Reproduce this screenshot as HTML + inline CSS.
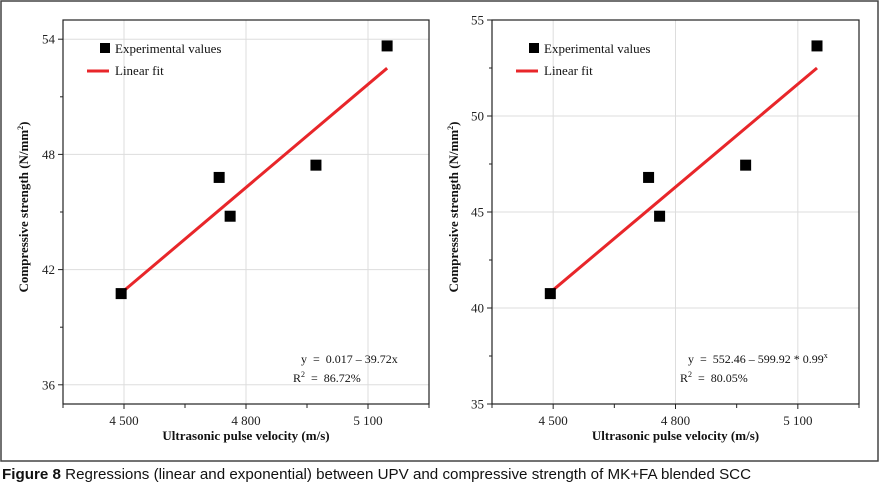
<!DOCTYPE html>
<html><head><meta charset="utf-8"><style>
html,body{margin:0;padding:0;background:#fff;width:880px;height:501px;overflow:hidden}
svg{position:absolute;left:0;top:0}
svg text{white-space:pre}
.cap{position:absolute;left:2px;top:466px;font-family:"Liberation Sans",sans-serif;font-size:15px;white-space:nowrap;transform:scaleX(1.01);transform-origin:0 0;color:#111}
</style></head><body>
<svg id="c" width="880" height="501"></svg>
<div class="cap"><b>Figure 8</b> Regressions (linear and exponential) between UPV and compressive strength of MK+FA blended SCC</div>
<script>
const xVals=[4493,4734,4761,4972,5147];
const yVals=[40.75,46.8,44.78,47.44,53.65];
const fitLeft=[[4493,40.78],[5147,52.49]];
const fitRight=[[4500,40.94],[5147,52.5]];
const xTicks=[4500,4800,5100];
const xTickLabels=["4 500","4 800","5 100"];
const xMinor=[4350,4650,4950,5250];
const yTicksLeft=[54,48,42,36];
const yMinorLeft=[51,45,39];
const yTicksRight=[55,50,45,40,35];
const yMinorRight=[52.5,47.5,42.5,37.5];
const svg=document.getElementById('c');
const NS='http://www.w3.org/2000/svg';
function mk(t,a,p){const e=document.createElementNS(NS,t);for(const k in a)e.setAttribute(k,a[k]);(p||svg).appendChild(e);return e;}
const fr=mk('rect',{x:1,y:1,width:877,height:460,fill:'none',stroke:'#444','stroke-width':1.5});


function chart(L,R,yMajor,yMinor,fit,eq1,eq2,eqX,yTitleX,prefix){
  const T=20,B=404,x0=4350,x1=5250,y0=35,y1=55;
  const sx=v=>L+(v-x0)/(x1-x0)*(R-L);
  const sy=v=>B-(v-y0)/(y1-y0)*(B-T);
  const g=mk('g',{});
  
  
  xTicks.forEach((v,i)=>{
    const gl=mk('line',{x1:sx(v),x2:sx(v),y1:T,y2:B,stroke:'#ddd','stroke-width':1},g);
    
    
    mk('line',{x1:sx(v),x2:sx(v),y1:B,y2:B+5,stroke:'#222'},g);
    const t=mk('text',{x:sx(v),y:B+21,'text-anchor':'middle','font-size':13,'font-family':'Liberation Serif, serif',fill:'#222'},g);
    t.textContent=xTickLabels[i];
    
    
  });
  xMinor.forEach(v=>mk('line',{x1:sx(v),x2:sx(v),y1:B,y2:B+4,stroke:'#222'},g));
  yMajor.forEach(v=>{
    const gl=mk('line',{x1:L,x2:R,y1:sy(v),y2:sy(v),stroke:'#ddd','stroke-width':1},g);
    
    
    mk('line',{x1:L-5,x2:L,y1:sy(v),y2:sy(v),stroke:'#222'},g);
    const t=mk('text',{x:L-8,y:sy(v)+4.5,'text-anchor':'end','font-size':13,'font-family':'Liberation Serif, serif',fill:'#222'},g);
    t.textContent=v;
    
    
  });
  yMinor.forEach(v=>mk('line',{x1:L-3,x2:L,y1:sy(v),y2:sy(v),stroke:'#222'},g));
  const box=mk('rect',{x:L,y:T,width:R-L,height:B-T,fill:'none',stroke:'#222','stroke-width':1.2},g);
  
  
  const ln=mk('line',{x1:sx(fit[0][0]),y1:sy(fit[0][1]),x2:sx(fit[1][0]),y2:sy(fit[1][1]),stroke:'#e8262a','stroke-width':3},g);
  
  
  xVals.forEach((v,i)=>{
    const r=mk('rect',{x:sx(v)-5.5,y:sy(yVals[i])-5.5,width:11,height:11,fill:'#000'},g);
    
    
  });
  const lg=mk('g',{},g);
  
  
  mk('rect',{x:L+37,y:43,width:10,height:10,fill:'#000'},lg);
  const t1=mk('text',{x:L+52,y:53,'font-size':13,'font-family':'Liberation Serif, serif',fill:'#111'},lg);
  t1.textContent='Experimental values';
  mk('line',{x1:L+24,x2:L+46,y1:71,y2:71,stroke:'#e8262a','stroke-width':3},lg);
  const t2=mk('text',{x:L+52,y:75,'font-size':13,'font-family':'Liberation Serif, serif',fill:'#111'},lg);
  t2.textContent='Linear fit';
  const e1=mk('text',{x:eqX,y:363,'font-size':12,'font-family':'Liberation Serif, serif',fill:'#111'},g);
  e1.innerHTML=eq1;
  
  
  const e2=mk('text',{x:eqX-8,y:382,'font-size':12,'font-family':'Liberation Serif, serif',fill:'#111'},g);
  e2.innerHTML=eq2;
  
  
  const xt=mk('text',{x:(L+R)/2,y:440,'text-anchor':'middle','font-size':13,'font-weight':'bold','font-family':'Liberation Serif, serif',fill:'#111'},g);
  xt.textContent='Ultrasonic pulse velocity (m/s)';
  
  
  const yt=mk('text',{x:0,y:0,'text-anchor':'middle','font-size':13,'font-weight':'bold','font-family':'Liberation Serif, serif',fill:'#111',transform:`translate(${yTitleX},${(T+B)/2-5}) rotate(-90)`},g);
  yt.innerHTML='Compressive strength (N/mm<tspan dy="-5" font-size="8">2</tspan><tspan dy="5">)</tspan>';
  
  
}
chart(63,429,yTicksLeft,yMinorLeft,fitLeft,'y  =  0.017 – 39.72x','R<tspan dy="-5" font-size="8">2</tspan><tspan dy="5">  =  86.72%</tspan>',301,28,'left');
chart(492,859,yTicksRight,yMinorRight,fitRight,'y  =  552.46 – 599.92 * 0.99<tspan dy="-5" font-size="8">x</tspan>','R<tspan dy="-5" font-size="8">2</tspan><tspan dy="5">  =  80.05%</tspan>',688,458,'right');
</script>
</body></html>
